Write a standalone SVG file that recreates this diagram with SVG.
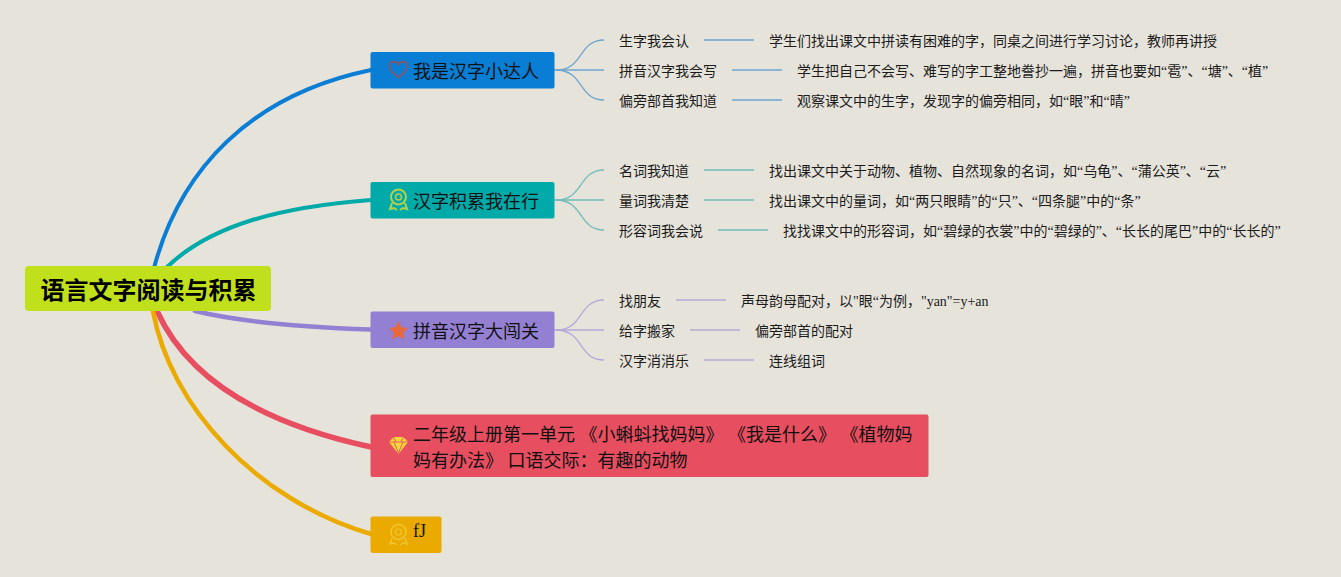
<svg xmlns="http://www.w3.org/2000/svg" width="1341" height="577" viewBox="0 0 1341 577">
<style>
text{font-family:"Liberation Serif","Noto Sans CJK SC",serif;fill:#111}
.s{font-size:14px;fill:#1c1c1c}
.m{font-size:18px}
.r{font-size:24px;font-weight:700;fill:#000;font-family:"Liberation Sans","Noto Sans CJK SC",sans-serif}
.b{fill:none;stroke-linecap:round}
.t{stroke-width:1.3;fill:none}
.c1{stroke:#6ea5d0}.c2{stroke:#6fbcb9}.c3{stroke:#b5a8da}
</style>
<rect width="1341" height="577" fill="#e6e3db"/>
<g id="connectors">
<path class="b" stroke="#0a7dd4" stroke-width="4" d="M154 268C180 170 250 95 371 70"/>
<path class="b" stroke="#00aaa8" stroke-width="4" d="M166 268C210 225 280 207 371 200"/>
<path class="b" stroke="#9480d2" stroke-width="4.500" d="M195 311C240 322 300 327 371 329.500"/>
<path class="b" stroke="#e74e60" stroke-width="5.500" d="M157 311C186 375 255 422 371 447"/>
<path class="b" stroke="#eaaa00" stroke-width="4.500" d="M153 311C170 405 255 500 371 534"/>
<g class="t c1"><path d="M556 70C584 70 578 40 604 40"/><path d="M554 70H604" stroke-width="1.600"/><path d="M556 70C584 70 578 100 604 100"/><path d="M704 40H754"/><path d="M732 70H782"/><path d="M732 100H782"/></g>
<g class="t c2"><path d="M556 200C584 200 578 170 604 170"/><path d="M554 200H604" stroke-width="1.600"/><path d="M556 200C584 200 578 230 604 230"/><path d="M704 170H754"/><path d="M704 200H754"/><path d="M718 230H768"/></g>
<g class="t c3"><path d="M556 330C584 330 578 300 604 300"/><path d="M554 330H604" stroke-width="1.600"/><path d="M556 330C584 330 578 360 604 360"/><path d="M676 300H726"/><path d="M690 330H740"/><path d="M704 360H754"/></g>
</g>
<g id="root"><rect x="25" y="266" width="246" height="45" rx="4" fill="#c0e01c"/><text class="r" x="40.500" y="299">语言文字阅读与积累</text></g>
<g id="n1"><rect x="370.500" y="52" width="184" height="36.500" rx="2" fill="#0a7dd4"/>
<path d="M398.500 77.500C392.500 72.500 389.500 70 389.500 66.500C389.500 61 396 60 398.500 64.500C401 60 407.500 61 407.500 66.500C407.500 70 404.500 72.500 398.500 77.500Z" fill="none" stroke="#7d5a70" stroke-width="2"/>
<text class="m" x="413" y="78">我是汉字小达人</text></g>
<g id="n2"><rect x="370.500" y="182" width="184" height="36.500" rx="2" fill="#00aaa8"/>
<circle cx="398.500" cy="197" r="7.500" fill="none" stroke="#b5cf4a" stroke-width="2"/><circle cx="398.500" cy="197" r="3" fill="none" stroke="#b5cf4a" stroke-width="1.500"/><path d="M392 203L390 209L394 208L397 210M405 203L407 209L403 208L400 210" fill="none" stroke="#b5cf4a" stroke-width="2"/>
<text class="m" x="413" y="208">汉字积累我在行</text></g>
<g id="n3"><rect x="370.500" y="311.500" width="184" height="36.500" rx="2" fill="#9480d2"/>
<path d="M398.500 321L401.400 327.200L408 328L403.200 332.600L404.500 339.200L398.500 336L392.500 339.200L393.800 332.600L389 328L395.600 327.200Z" fill="#e8683a"/>
<text class="m" x="413" y="338">拼音汉字大闯关</text></g>
<g id="n4"><rect x="370.500" y="414.500" width="558" height="62.500" rx="2" fill="#e74e60"/>
<path d="M393.500 437H403.500L408 442L398.500 454L389 442Z" fill="#f7d63c"/><path d="M389 442H408M394 442L398.500 453L403 442M393.500 437L396 442M403.500 437L401 442" fill="none" stroke="#e74e60" stroke-width="0.900"/>
<text class="m" x="413" y="441">二年级上册第一单元 《小蝌蚪找妈妈》 《我是什么》 《植物妈</text>
<text class="m" x="413" y="467">妈有办法》 口语交际：有趣的动物</text></g>
<g id="n5"><rect x="370.500" y="516.500" width="71" height="36.500" rx="2" fill="#eaaa00"/>
<circle cx="398.500" cy="532" r="7.500" fill="none" stroke="#f2c62e" stroke-width="1.500"/><circle cx="398.500" cy="532" r="3" fill="none" stroke="#f2c62e" stroke-width="1.200"/><path d="M392 538L390 544L394 543L397 545M405 538L407 544L403 543L400 545" fill="none" stroke="#f2c62e" stroke-width="1.500"/>
<text class="m" x="413" y="537">fJ</text></g>
<g id="n1-1"><text class="s" x="619" y="46">生字我会认</text></g>
<g id="n1-1d"><text class="s" x="769" y="46">学生们找出课文中拼读有困难的字，同桌之间进行学习讨论，教师再讲授</text></g>
<g id="n1-2"><text class="s" x="619" y="76">拼音汉字我会写</text></g>
<g id="n1-2d"><text class="s" x="797" y="76">学生把自己不会写、难写的字工整地誊抄一遍，拼音也要如“雹”、“塘”、“植”</text></g>
<g id="n1-3"><text class="s" x="619" y="106">偏旁部首我知道</text></g>
<g id="n1-3d"><text class="s" x="797" y="106">观察课文中的生字，发现字的偏旁相同，如“眼”和“晴”</text></g>
<g id="n2-1"><text class="s" x="619" y="176">名词我知道</text></g>
<g id="n2-1d"><text class="s" x="769" y="176">找出课文中关于动物、植物、自然现象的名词，如“乌龟”、“蒲公英”、“云”</text></g>
<g id="n2-2"><text class="s" x="619" y="206">量词我清楚</text></g>
<g id="n2-2d"><text class="s" x="769" y="206">找出课文中的量词，如“两只眼睛”的“只”、“四条腿”中的“条”</text></g>
<g id="n2-3"><text class="s" x="619" y="236">形容词我会说</text></g>
<g id="n2-3d"><text class="s" x="783" y="236">找找课文中的形容词，如“碧绿的衣裳”中的“碧绿的”、“长长的尾巴”中的“长长的”</text></g>
<g id="n3-1"><text class="s" x="619" y="306">找朋友</text></g>
<g id="n3-1d"><text class="s" x="741" y="306">声母韵母配对，以"眼“为例，"yan"=y+an</text></g>
<g id="n3-2"><text class="s" x="619" y="336">给字搬家</text></g>
<g id="n3-2d"><text class="s" x="755" y="336">偏旁部首的配对</text></g>
<g id="n3-3"><text class="s" x="619" y="366">汉字消消乐</text></g>
<g id="n3-3d"><text class="s" x="769" y="366">连线组词</text></g>
</svg>
